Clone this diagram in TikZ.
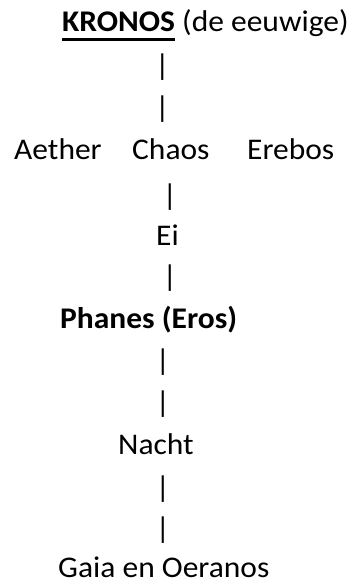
\documentclass[tikz,border=0pt]{standalone}
\usepackage{fontspec}
\setmainfont{Carlito}[FakeStretch=1.05]
\usepackage{tikz}
\tikzset{
  naam/.style={anchor=base west, inner sep=0pt, font=\fontsize{30}{36}\selectfont},
  streep/.style={inner sep=0pt, font=\fontsize{30}{36}\selectfont}
}
\newcommand{\onderlijn}[1]{\setbox0\hbox{#1}\rlap{\rule[-9.2pt]{\wd0}{3pt}}\box0\relax}

\begin{document}
\begin{tikzpicture}[x=1pt, y=-1pt]
		\useasboundingbox (0,0) rectangle (354,584);
		% bovenste regel
		\node[naam] (kronos) at (62,31.5) {\onderlijn{\textbf{KRONOS}} (de eeuwige)};
		\node[streep] (s1) at (162.5,67) {|};
		\node[streep] (s2) at (162.5,109.5) {|};
		% drie kinderen
		\node[naam] (aether) at (14,159) {Aether};
		\node[naam] (chaos) at (132,159) {Chaos};
		\node[naam] (erebos) at (247,159) {Erebos};
		\node[streep] (s3) at (170,197) {|};
		\node[naam] (ei) at (156,245.5) {Ei};
		\node[streep] (s4) at (170,278) {|};
		\node[naam] (phanes) at (60,328) {\textbf{Phanes (Eros)}};
		\node[streep] (s5) at (163,362) {|};
		\node[streep] (s6) at (163,404) {|};
		\node[naam] (nacht) at (118,454) {Nacht};
		\node[streep] (s7) at (163,489) {|};
		\node[streep] (s8) at (163,530) {|};
		\node[naam] (gaia) at (58,577) {Gaia en Oeranos};
	\end{tikzpicture}
\end{document}
